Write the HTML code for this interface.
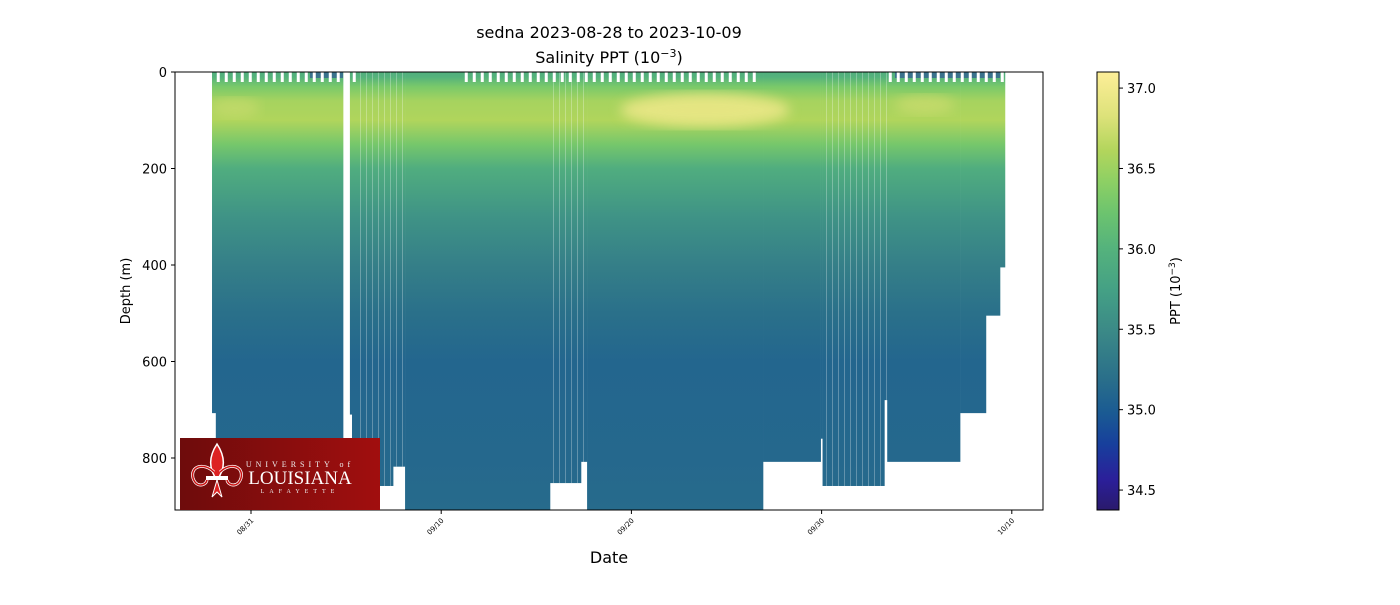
<!DOCTYPE html>
<html><head><meta charset="utf-8"><style>
body{margin:0;background:#fff}
svg{font-family:"DejaVu Sans","Liberation Sans",sans-serif}
</style></head><body>
<svg id="c" width="1400" height="600" xmlns="http://www.w3.org/2000/svg">
<defs id="defs"><filter id="blur"><feGaussianBlur stdDeviation="6"/></filter></defs>
<text x="609" y="38" text-anchor="middle" font-size="16">sedna 2023-08-28 to 2023-10-09</text>
<text x="609" y="63" text-anchor="middle" font-size="16">Salinity PPT (10<tspan dy="-6" font-size="11">−3</tspan><tspan dy="6">)</tspan></text>
<g id="plot"></g>
<rect x="175" y="72" width="868" height="438" fill="none" stroke="#000" stroke-width="1"/>
<g id="xt"></g><g id="yt"></g>
<text x="609" y="563" text-anchor="middle" font-size="16">Date</text>
<text transform="translate(130,291) rotate(-90)" text-anchor="middle" font-size="13">Depth (m)</text>
<g>
<defs><linearGradient id="lg" x1="0" x2="1"><stop offset="0" stop-color="#6e0c0c"/><stop offset="1" stop-color="#a10e0e"/></linearGradient></defs>
<rect x="180" y="438" width="200" height="72" fill="url(#lg)"/>
<path d="M217 444 C209 456 208 468 217 480 C226 468 225 456 217 444Z" fill="#d22" stroke="#fff" stroke-width="1.5"/>
<path d="M214 472 C204 462 190 466 193 478 C196 488 206 486 207 480 M220 472 C230 462 244 466 241 478 C238 488 228 486 227 480" fill="none" stroke="#fff" stroke-width="3"/>
<path d="M214 472 C204 462 190 466 193 478 C196 488 206 486 207 480 M220 472 C230 462 244 466 241 478 C238 488 228 486 227 480" fill="none" stroke="#c11" stroke-width="1.5"/>
<rect x="206" y="476" width="22" height="4" fill="#fff"/>
<path d="M217 480 L212 497 L217 492 L222 497Z" fill="#d22" stroke="#fff"/>
<text x="300" y="467" text-anchor="middle" font-family="Liberation Serif,serif" font-size="8" letter-spacing="4" fill="#eee">UNIVERSITY of</text>
<text x="300" y="484" text-anchor="middle" font-family="Liberation Serif,serif" font-size="19" fill="#fff">LOUISIANA</text>
<text x="300" y="493" text-anchor="middle" font-family="Liberation Serif,serif" font-size="6" letter-spacing="5" fill="#eee">LAFAYETTE</text>
</g>
<rect x="1097" y="72" width="22" height="438" fill="url(#cbg)" stroke="#000" stroke-width="1"/>
<g id="ct"></g>
<text transform="translate(1180,291) rotate(-90)" text-anchor="middle" font-size="13">PPT (10<tspan dy="-5" font-size="9">−3</tspan><tspan dy="5">)</tspan></text>
</svg>
<script>
// data
const segStart=[-2.05,-1.85,5.2,5.31,6.73,7.47,8.1,15.72,17.35,17.67,26.92,29.95,30.05,33.3,33.45,37.28,38.64,39.38];
const segEnd  =[-1.85,4.84,5.31,6.73,7.47,8.1,15.72,17.35,17.67,26.92,29.95,30.05,33.3,33.45,37.28,38.64,39.38,39.64];
const segDepth=[707,910,710,910,858,818,910,852,808,910,808,760,858,680,808,707,505,405];
const profDepth=[0,10,30,60,100,150,200,300,400,500,600,800,910];
const profSal=[35.95,36.0,36.3,36.55,36.6,36.28,35.93,35.6,35.38,35.2,35.1,35.12,35.15];
const cbTicks=[34.5,35.0,35.5,36.0,36.5,37.0];
const dateTicks=["08/31","09/10","09/20","09/30","10/10"];
const dateTickDays=[0,10,20,30,40];
const vmin=34.376,vmax=37.1;
const X=d=>251+d*19.02, Y=m=>72+m*0.4825, C=v=>510-(v-vmin)/(vmax-vmin)*438;
const stops=[[0,"#2a1a6c"],[0.07,"#2b1f9a"],[0.15,"#173f9c"],[0.22,"#1a5a93"],[0.3,"#2a6f8a"],[0.4,"#3a8787"],[0.5,"#44a085"],[0.6,"#55b37c"],[0.68,"#6dc46e"],[0.75,"#8dd064"],[0.82,"#b2d55c"],[0.9,"#dde27a"],[1,"#fdee98"]];
function hex(h){return [1,3,5].map(i=>parseInt(h.substr(i,2),16))}
function cmap(v){let t=Math.max(0,Math.min(1,(v-vmin)/(vmax-vmin)));for(let i=1;i<stops.length;i++){if(t<=stops[i][0]){const a=stops[i-1],b=stops[i],f=(t-a[0])/(b[0]-a[0]);const A=hex(a[1]),B=hex(b[1]);return `rgb(${A.map((x,k)=>Math.round(x+(B[k]-x)*f)).join(',')})`}}return stops[stops.length-1][1]}
const NS="http://www.w3.org/2000/svg";
function el(t,a,p){const e=document.createElementNS(NS,t);for(const k in a)e.setAttribute(k,a[k]);p.appendChild(e);return e}
const defs=document.getElementById('defs');
const pg=el('linearGradient',{id:'pg',x1:0,y1:0,x2:0,y2:1,gradientUnits:'userSpaceOnUse'},defs);
pg.setAttribute('y1',Y(0));pg.setAttribute('y2',Y(910));
profDepth.forEach((d,i)=>el('stop',{offset:d/910,'stop-color':cmap(profSal[i])},pg));
const cbg=el('linearGradient',{id:'cbg',x1:0,y1:1,x2:0,y2:0},defs);
stops.forEach(s=>el('stop',{offset:s[0],'stop-color':s[1]},cbg));
const plot=document.getElementById('plot');
const cp=el('clipPath',{id:'dataclip'},defs);
segStart.forEach((s,i)=>{const r=el('rect',{x:X(s),y:72,width:X(segEnd[i])-X(s)+0.3,height:Math.min(Y(segDepth[i]),510)-72,fill:'url(#pg)'},plot);


el('rect',{x:X(s),y:72,width:X(segEnd[i])-X(s)+0.3,height:Math.min(Y(segDepth[i]),510)-72},cp);});
const hl=el('g',{'clip-path':'url(#dataclip)'},plot);
const lens=el('ellipse',{cx:705,cy:110,rx:85,ry:17,fill:cmap(36.95),opacity:0.9,filter:'url(#blur)'},hl);


el('ellipse',{cx:925,cy:105,rx:30,ry:10,fill:cmap(36.75),opacity:0.7,filter:'url(#blur)'},hl);
el('ellipse',{cx:235,cy:108,rx:25,ry:10,fill:cmap(36.75),opacity:0.6,filter:'url(#blur)'},hl);
[[310,343],[895,1000]].forEach(p=>el('rect',{x:p[0],y:72,width:p[1]-p[0],height:6,fill:cmap(34.7),opacity:0.5},hl));
for(let x=360;x<405;x+=6)el('rect',{x:x,y:72,width:0.8,height:438,fill:'#fff',opacity:0.35},hl);
for(let x=553;x<587;x+=6)el('rect',{x:x,y:72,width:0.8,height:438,fill:'#fff',opacity:0.35},hl);
for(let x=826;x<890;x+=6)el('rect',{x:x,y:72,width:0.8,height:438,fill:'#fff',opacity:0.35},hl);
for(let x=X(-1.8);x<X(39.6);x+=8){if((x>X(4.8)&&x<X(5.3))||(x>X(5.4)&&x<X(10.9))||(x>X(26.5)&&x<X(33.5)))continue;el('rect',{x:x,y:72,width:3,height:10,fill:'#fff'},plot);}
const yt=document.getElementById('yt');
[0,200,400,600,800].forEach(v=>{el('line',{x1:171,x2:175,y1:Y(v),y2:Y(v),stroke:'#000'},yt);const t=el('text',{x:167,y:Y(v)+5,'text-anchor':'end','font-size':13},yt);t.textContent=v;

});
const xt=document.getElementById('xt');
dateTicks.forEach((lab,i)=>{const x=X(dateTickDays[i]);el('line',{x1:x,x2:x,y1:510,y2:514,stroke:'#000'},xt);const t=el('text',{transform:`translate(${x+3},${521}) rotate(-45)`,'text-anchor':'end','font-size':7},xt);t.textContent=lab;

});
const ct=document.getElementById('ct');
cbTicks.forEach(v=>{el('line',{x1:1119,x2:1123,y1:C(v),y2:C(v),stroke:'#000'},ct);const t=el('text',{x:1127,y:C(v)+5,'font-size':13},ct);t.textContent=v.toFixed(1);

});
</script>
</body></html>
